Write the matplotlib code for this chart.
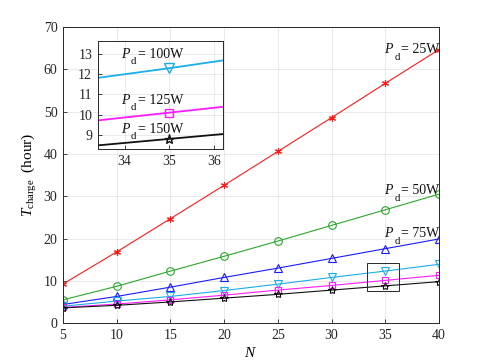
import numpy as np
import matplotlib
matplotlib.use("Agg")
import matplotlib.pyplot as plt
from matplotlib.patches import Rectangle

plt.rcParams['font.family'] = 'Liberation Serif'
plt.rcParams['mathtext.fontset'] = 'custom'
plt.rcParams['mathtext.rm'] = 'Liberation Serif'
plt.rcParams['mathtext.it'] = 'Liberation Serif:italic'

# --- data ---
N = [5, 10, 15, 20, 25, 30, 35, 40]
t_25 = [9.25, 16.85, 24.7, 32.6, 40.6, 48.6, 56.7, 64.7]
t_50 = [5.5, 8.7, 12.3, 15.8, 19.4, 23.1, 26.8, 30.5]
t_75 = [4.4, 6.3, 8.5, 10.8, 13.0, 15.3, 17.6, 19.9]
t_100 = [4.0, 5.2, 6.3, 7.7, 9.2, 10.8, 12.3, 13.9]
t_125 = [3.7, 4.5, 5.5, 6.6, 7.8, 8.9, 10.1, 11.3]
t_150 = [3.6, 4.2, 5.0, 5.9, 6.8, 7.8, 8.8, 9.8]
labels = ['25W', '50W', '75W', '100W', '125W', '150W']

series = [t_25, t_50, t_75, t_100, t_125, t_150]
colors = ['#ff1a1a', '#2ca62c', '#1a1aff', '#1aaee6', '#ff1aff', '#111111']
markers = [(6, 2, 0), 'o', '^', 'v', 's', '*']
msizes = [5, 5.5, 6, 6, 5, 6]

edge = '#262626'


def pd_label(a, x, y, watt):
    # MATLAB-style "P_d= xxW" label: italic P, big lowered subscript d
    kw = dict(xy=(x, y), textcoords='offset points', va='baseline', ha='left',
              color='#111111')
    a.annotate('P', xytext=(0, 0), fontsize=10, style='italic', **kw)
    a.annotate('d', xytext=(7.2, -4.7), fontsize=7.8, **kw)
    a.annotate('= ' + watt, xytext=(12.2, 0), fontsize=10, **kw)


def style_axes(a):
    a.grid(True, color='#e6e6e6', lw=0.6)
    a.set_axisbelow(True)
    a.tick_params(direction='in', length=3, width=0.6, colors=edge, labelsize=10,
                  top=False, right=False, pad=4)
    for s in a.spines.values():
        s.set_color(edge)
        s.set_linewidth(0.7)


fig = plt.figure(figsize=(4.85, 3.63), dpi=100)
ax = fig.add_axes([0.13, 0.11, 0.775, 0.815])

for y, c, m, ms in zip(series, colors, markers, msizes):
    ax.plot(N, y, color=c, lw=0.8, marker=m, ms=ms, mfc='none', mec=c, mew=0.8)

ax.set_xlim(5, 40)
ax.set_ylim(0, 70)
ax.set_xticks(N)
ax.set_yticks(range(0, 71, 10))
style_axes(ax)
ax.set_xlabel('$N$', fontsize=11, labelpad=3)
ax.set_ylabel('$T_{\\rm charge}$  (hour)', fontsize=11, labelpad=3)

# curve labels in main axes
pd_label(ax, 34.9, 63.9, labels[0])
pd_label(ax, 34.9, 30.5, labels[1])
pd_label(ax, 34.9, 20.3, labels[2])

# zoom box
ax.add_patch(Rectangle((33.3, 7.5), 3.0, 6.6, fill=False, ec=edge, lw=0.7, zorder=5))

# --- inset ---
ins = fig.add_axes([0.2015, 0.5895, 0.258, 0.2967])
for y, c, m, ms in zip(series[3:], colors[3:], markers[3:], msizes[3:]):
    ins.plot(N, y, color=c, lw=1.3, marker=m, ms=ms + 0.5, mfc='none', mec=c, mew=1.0)
ins.set_xlim(33.4, 36.2)
ins.set_ylim(8.3, 13.63)
ins.set_xticks([34, 35, 36])
ins.set_yticks([9, 10, 11, 12, 13])
style_axes(ins)

pd_label(ins, 33.92, 12.81, labels[3])
pd_label(ins, 33.92, 10.54, labels[4])
pd_label(ins, 33.92, 9.11, labels[5])

fig.savefig('out.png', dpi=100)
